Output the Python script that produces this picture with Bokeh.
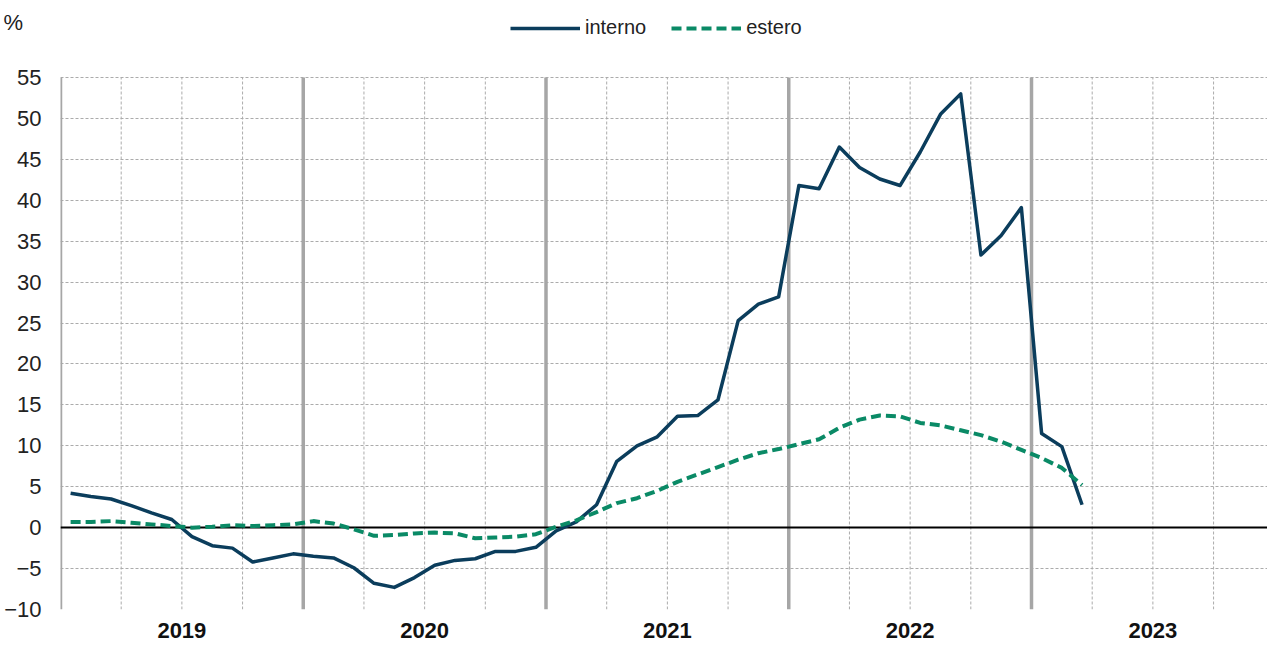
from bokeh.plotting import figure
from bokeh.models import Range1d, FixedTicker, Legend, LegendItem
from bokeh.embed import file_html
from bokeh.resources import INLINE

# ---- data (monthly, Jan 2019 - Mar 2023) ----
years = ["2019", "2020", "2021", "2022", "2023"]
interno = [4.2, 3.8, 3.5, 2.7, 1.8, 1.0, -1.1, -2.2, -2.5, -4.2, -3.7, -3.2,
           -3.5, -3.7, -4.9, -6.8, -7.3, -6.1, -4.6, -4.0, -3.8, -2.9, -2.9, -2.4,
           -0.4, 0.7, 2.8, 8.1, 10.0, 11.1, 13.6, 13.7, 15.6, 25.3, 27.3, 28.2,
           41.8, 41.4, 46.5, 44.0, 42.6, 41.8, 45.9, 50.5, 53.0, 33.3, 35.7, 39.1,
           11.5, 9.9, 2.8]
estero = [0.7, 0.7, 0.8, 0.6, 0.4, 0.2, 0.0, 0.1, 0.3, 0.2, 0.3, 0.4,
          0.8, 0.5, -0.2, -1.0, -0.9, -0.7, -0.6, -0.7, -1.3, -1.2, -1.1, -0.8,
          0.1, 0.9, 1.9, 3.0, 3.6, 4.5, 5.6, 6.5, 7.4, 8.3, 9.1, 9.6,
          10.2, 10.8, 12.2, 13.2, 13.7, 13.6, 12.8, 12.5, 11.9, 11.3, 10.5, 9.5,
          8.5, 7.3, 5.2]
y_ticks = list(range(-10, 56, 5))
unit_label = "%"

x = [i + 0.5 for i in range(len(interno))]

# ---- layout constants ----
W, H = 1267, 646
LEFT, BOTTOM = 60, 37
PX_MONTH = 242.75 / 12
PX_UNIT = 532 / 65.0
Y_MIN, Y_MAX = -10, 55
Y_TOP = Y_MAX + 77 / PX_UNIT
X_END = (W - LEFT) / PX_MONTH

FONT = "Liberation Sans"
NAVY = "#0B3D5C"
GREEN = "#0A8A66"
GRID = "#ABABAB"

p = figure(width=W, height=H, output_backend="svg", toolbar_location=None,
           x_range=Range1d(0, X_END), y_range=Range1d(Y_MIN, Y_TOP),
           min_border_left=LEFT, min_border_right=0, min_border_top=0,
           min_border_bottom=BOTTOM)
p.outline_line_color = None
p.background_fill_color = "white"
p.border_fill_color = "white"

# x axis: year labels in the middle of each year
n_years = len(years)
p.xaxis.ticker = FixedTicker(ticks=[6 + 12 * k for k in range(n_years)])
p.xaxis.major_label_overrides = {6 + 12 * k: y for k, y in enumerate(years)}
p.xaxis.axis_line_color = None
p.xaxis.major_tick_line_color = None
p.xaxis.minor_tick_line_color = None
p.xaxis.major_tick_out = 0
p.xaxis.major_tick_in = 0
p.xaxis.major_label_standoff = 13
p.xaxis.major_label_text_font = FONT
p.xaxis.major_label_text_font_size = "22px"
p.xaxis.major_label_text_font_style = "bold"
p.xaxis.major_label_text_color = "#111111"

# y axis (the unit "%" sits on its own tick at the top left)
unit_y = Y_MAX + (77 - 22) / PX_UNIT
p.yaxis.ticker = FixedTicker(ticks=y_ticks + [unit_y])
p.yaxis.major_label_overrides = {unit_y: unit_label + "\u00a0\u00a0\u00a0"}
p.yaxis.axis_line_color = None
p.yaxis.major_tick_line_color = None
p.yaxis.minor_tick_line_color = None
p.yaxis.major_tick_out = 0
p.yaxis.major_tick_in = 0
p.yaxis.major_label_standoff = 19
p.yaxis.major_label_text_font = FONT
p.yaxis.major_label_text_font_size = "22px"
p.yaxis.major_label_text_color = "#222222"

# grids
p.xgrid.visible = False
p.ygrid.ticker = FixedTicker(ticks=y_ticks)
p.ygrid.grid_line_color = GRID
p.ygrid.grid_line_dash = "3 2"
p.ygrid.grid_line_width = 1

months_total = 12 * n_years
quarters = [m for m in range(3, months_total, 3) if m % 12 != 0]
year_bounds = [12 * k for k in range(n_years)]
p.segment(x0=quarters, x1=quarters, y0=[Y_MIN] * len(quarters), y1=[Y_MAX] * len(quarters),
          line_color=GRID, line_dash="3 2", line_width=1)
p.segment(x0=year_bounds, x1=year_bounds, y0=[Y_MIN] * n_years, y1=[Y_MAX] * n_years,
          line_color="#A6A6A6", line_width=3.5)

p.hspan(y=[0], line_color="black", line_width=2)

r1 = p.line(x, interno, line_color=NAVY, line_width=3.5, line_join="round")
r2 = p.line(x, estero, line_color=GREEN, line_width=4, line_dash="10 5")

legend = Legend(items=[LegendItem(label="interno", renderers=[r1]),
                       LegendItem(label="estero", renderers=[r2])],
                orientation="horizontal", location=(450, 570),
                glyph_width=70, glyph_height=20, label_height=20,
                label_standoff=5, spacing=25,
                padding=0, margin=0, border_line_color=None,
                background_fill_alpha=0, label_text_font=FONT,
                label_text_font_size="20px", label_text_color="#222222")
p.add_layout(legend)

open("out.html", "w").write(file_html(p, INLINE))
